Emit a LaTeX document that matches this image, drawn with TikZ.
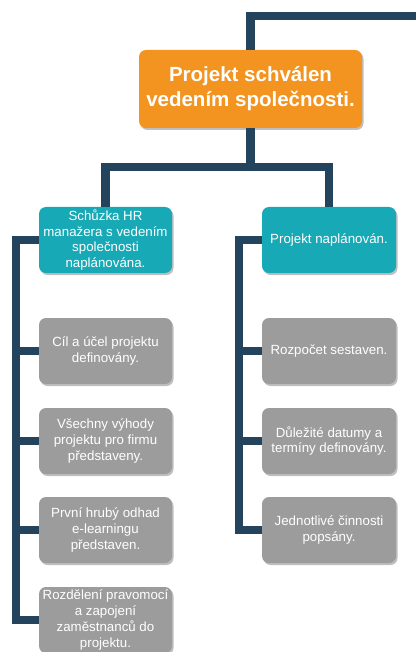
\documentclass[tikz,border=0pt]{standalone}
\usepackage{fontspec}
\setmainfont{Liberation Sans}
\usetikzlibrary{shadows}
\definecolor{linec}{HTML}{24435C}
\definecolor{orangec}{HTML}{F2941F}
\definecolor{tealc}{HTML}{17A9B5}
\definecolor{grayc}{HTML}{9C9C9C}
\tikzset{
  box/.style={rounded corners=7pt, minimum width=133pt, minimum height=66pt, inner sep=2pt,
    align=center, text=white, font=\fontsize{13.3}{15.7}\selectfont,
    drop shadow={shadow xshift=1.5pt, shadow yshift=-2pt, opacity=0.25, fill=black}},
  topbox/.style={box, fill=orangec, minimum width=223pt, minimum height=78pt,
    font=\bfseries\fontsize{20.5}{25}\selectfont},
  tealbox/.style={box, fill=tealc},
  graybox/.style={box, fill=grayc},
  conn/.style={draw=linec, line width=8.3pt, line join=miter}
}
\begin{document}
\begin{tikzpicture}[x=1pt, y=-1pt]
\useasboundingbox (0,0) rectangle (415,652);
\coordinate (tr) at (420,16);
\coordinate (ls) at (16,0);
\coordinate (rs) at (239,0);
\node[topbox] (o) at (250.5,89) {Projekt schválen\\vedením společnosti.};
\node[tealbox] (t1) at (105.5,240) {Schůzka HR\\manažera s vedením\\společnosti\\naplánována.};
\node[tealbox, minimum width=134pt] (t2) at (329,240) {Projekt naplánován.};
\node[graybox] (g1) at (105.5,351) {Cíl a účel projektu\\definovány.};
\node[graybox] (g2) at (105.5,441) {Všechny výhody\\projektu pro firmu\\představeny.};
\node[graybox] (g3) at (105.5,530) {První hrubý odhad\\e-learningu\\představen.};
\node[graybox] (g4) at (105.5,620) {Rozdělení pravomocí\\a zapojení\\zaměstnanců do\\projektu.};
\node[graybox, minimum width=134pt] (h1) at (329,351) {Rozpočet sestaven.};
\node[graybox, minimum width=134pt] (h2) at (329,441) {Důležité datumy a\\termíny definovány.};
\node[graybox, minimum width=134pt] (h3) at (329,530) {Jednotlivé činnosti\\popsány.};
\draw[conn] (o.north) |- (tr);
\draw[conn] (o.south) -- ++(0,39) -| (t1.north);
\draw[conn] (o.south) -- ++(0,39) -| (t2.north);
\draw[conn] (t1.west) -- (t1.west -| ls) |- (g4.west);
\draw[conn] (g1.west) -- (g1.west -| ls);
\draw[conn] (g2.west) -- (g2.west -| ls);
\draw[conn] (g3.west) -- (g3.west -| ls);
\draw[conn] (t2.west) -- (t2.west -| rs) |- (h3.west);
\draw[conn] (h1.west) -- (h1.west -| rs);
\draw[conn] (h2.west) -- (h2.west -| rs);
\end{tikzpicture}
\end{document}
